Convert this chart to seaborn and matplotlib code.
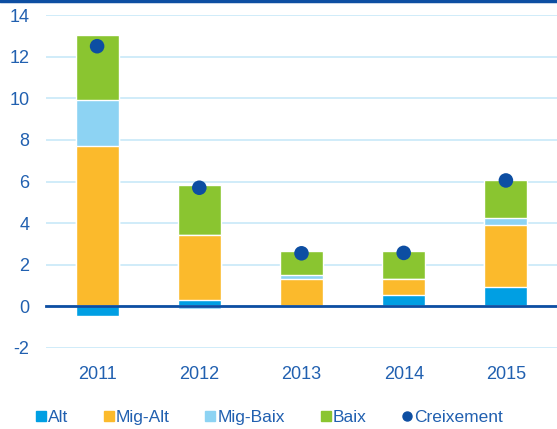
import numpy as np
import pandas as pd
import matplotlib
matplotlib.use("Agg")
import matplotlib.pyplot as plt
from matplotlib.lines import Line2D
import seaborn as sns

years = ["2011", "2012", "2013", "2014", "2015"]
alt = [-0.48, 0.30, -0.04, 0.56, 0.93]
mig_alt = [7.72, 3.15, 1.33, 0.77, 3.00]
mig_baix = [2.20, -0.15, 0.16, 0.00, 0.32]
baix = [3.10, 2.40, 1.15, 1.32, 1.84]
creixement = [12.5, 5.7, 2.55, 2.57, 6.05]

series = ["Alt", "Mig-Alt", "Mig-Baix", "Baix"]
colors = {"Alt": "#009FE3", "Mig-Alt": "#FBBA2C", "Mig-Baix": "#8DD3F3", "Baix": "#8AC530"}
dot_color = "#0D4EA2"
text_color = "#2160B0"
grid_color = "#C8E9F8"

sns.set_style("white")
plt.rcParams["font.family"] = ["Liberation Sans", "DejaVu Sans"]
plt.rcParams["axes.unicode_minus"] = False

vals = np.array([alt, mig_alt, mig_baix, baix])
pos = np.cumsum(np.clip(vals, 0, None), axis=0)
neg = np.cumsum(np.clip(vals, None, 0), axis=0)

fig = plt.figure(figsize=(5.57, 4.29), dpi=100)
ax = fig.add_axes([46 / 557, (429 - 348) / 429, 1 - 46 / 557, (348 - 15) / 429])

# stacked bars drawn as overlapping cumulative totals
for i in range(len(series) - 1, -1, -1):
    df = pd.DataFrame({"year": years, "v": pos[i]})
    sns.barplot(data=df, x="year", y="v", color=colors[series[i]], width=0.42,
                saturation=1, ax=ax, zorder=2)
for i in range(len(series) - 1, -1, -1):
    df = pd.DataFrame({"year": years, "v": neg[i]})
    sns.barplot(data=df, x="year", y="v", color=colors[series[i]], width=0.42,
                saturation=1, ax=ax, zorder=2)

dots = pd.DataFrame({"year": years, "v": creixement})
sns.scatterplot(data=dots, x="year", y="v", color=dot_color, s=110, ax=ax,
                zorder=4, edgecolor="none")

ax.set_xlim(-0.5, 4.5)
ax.set_ylim(-2, 14)
ax.set_yticks(range(-2, 15, 2))
ax.yaxis.grid(True, color=grid_color, lw=1.2, zorder=0)
ax.set_axisbelow(True)
ax.set_xlabel("")
ax.set_ylabel("")

for s in ["top", "right", "left"]:
    ax.spines[s].set_visible(False)
ax.spines["bottom"].set_position(("data", 0))
ax.spines["bottom"].set_color(dot_color)
ax.spines["bottom"].set_linewidth(2)
ax.spines["bottom"].set_zorder(3)

ax.set_xticks(np.arange(-0.5, 4.6, 1), minor=True)
ax.tick_params(axis="x", which="minor", length=5, width=2, color=dot_color, direction="out")
ax.tick_params(axis="x", which="major", length=0, pad=43, labelsize=13, labelcolor=text_color)
ax.tick_params(axis="y", length=0, pad=12, labelsize=13, labelcolor=text_color)

fig.add_artist(Line2D([0, 1], [0.998, 0.998], color=dot_color, lw=2.5, transform=fig.transFigure))

handles = [Line2D([], [], marker="s", ls="none", color=colors[s], markersize=7) for s in series]
handles.append(Line2D([], [], marker="o", ls="none", color=dot_color, markersize=6.5))
fig.legend(handles, series + ["Creixement"], loc="center", bbox_to_anchor=(0.484, 0.026),
           ncol=5, frameon=False, handlelength=0.5, handletextpad=0.15, columnspacing=2.1,
           fontsize=12.5, labelcolor=text_color)

fig.savefig("out.png", dpi=100)
